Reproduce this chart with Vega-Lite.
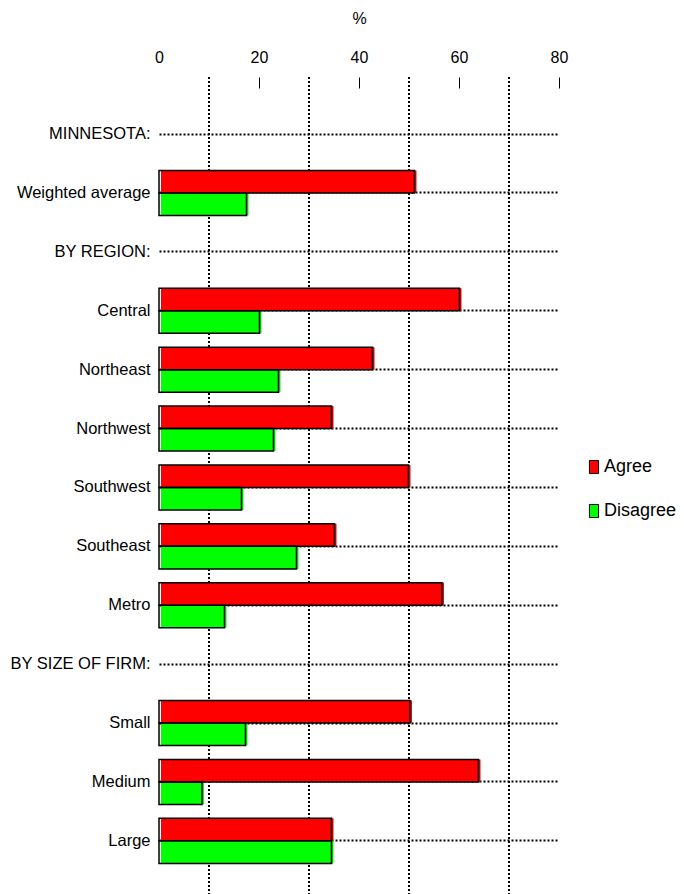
{
  "$schema": "https://vega.github.io/schema/vega-lite/v6.json",
  "width": 400,
  "height": 817,
  "autosize": "none",
  "padding": {"left": 159, "top": 77, "right": 125, "bottom": 0},
  "background": "white",
  "config": {
    "view": {"stroke": null},
    "font": "Liberation Sans",
    "axis": {"labelFont": "Liberation Sans", "titleFont": "Liberation Sans", "labelColor": "black", "titleColor": "black"},
    "legend": {"labelFont": "Liberation Sans", "labelColor": "black"}
  },
  "datasets": {
    "bars": [
      {"cat": "Weighted average", "series": "Agree", "value": 51.1},
      {"cat": "Weighted average", "series": "Disagree", "value": 17.5},
      {"cat": "Central", "series": "Agree", "value": 60.1},
      {"cat": "Central", "series": "Disagree", "value": 20.1},
      {"cat": "Northeast", "series": "Agree", "value": 42.7},
      {"cat": "Northeast", "series": "Disagree", "value": 23.9},
      {"cat": "Northwest", "series": "Agree", "value": 34.5},
      {"cat": "Northwest", "series": "Disagree", "value": 22.9},
      {"cat": "Southwest", "series": "Agree", "value": 49.9},
      {"cat": "Southwest", "series": "Disagree", "value": 16.5},
      {"cat": "Southeast", "series": "Agree", "value": 35.1},
      {"cat": "Southeast", "series": "Disagree", "value": 27.5},
      {"cat": "Metro", "series": "Agree", "value": 56.6},
      {"cat": "Metro", "series": "Disagree", "value": 13.1},
      {"cat": "Small", "series": "Agree", "value": 50.2},
      {"cat": "Small", "series": "Disagree", "value": 17.3},
      {"cat": "Medium", "series": "Agree", "value": 63.9},
      {"cat": "Medium", "series": "Disagree", "value": 8.6},
      {"cat": "Large", "series": "Agree", "value": 34.5},
      {"cat": "Large", "series": "Disagree", "value": 34.5}
    ],
    "grid": [{"value": 10}, {"value": 30}, {"value": 50}, {"value": 70}]
  },
  "layer": [
    {
      "data": {"name": "grid"},
      "mark": {"type": "rule", "color": "black", "strokeWidth": 2, "strokeDash": [2, 2]},
      "encoding": {
        "x": {
          "field": "value", "type": "quantitative",
          "scale": {"domain": [0, 80], "nice": false},
          "axis": {
            "orient": "top", "title": "%", "titleFontSize": 16, "titleFontWeight": "normal", "titlePadding": 23,
            "values": [0, 20, 40, 60, 80], "grid": false, "domain": false,
            "tickSize": -11, "tickColor": "black", "tickWidth": 1,
            "tickOpacity": {"condition": {"test": "datum.value == 0", "value": 0}, "value": 1},
            "labelPadding": 23, "labelFontSize": 16, "labelFlush": false
          }
        }
      }
    },
    {
      "data": {"name": "bars"},
      "mark": {"type": "bar", "xOffset": 2, "x2Offset": 2, "strokeWidth": 0},
      "encoding": {
        "y": {
          "field": "cat", "type": "nominal",
          "scale": {
            "domain": ["MINNESOTA:", "Weighted average", "BY REGION:", "Central", "Northeast", "Northwest", "Southwest", "Southeast", "Metro", "BY SIZE OF FIRM:", "Small", "Medium", "Large"],
            "paddingInner": 0.235, "paddingOuter": 0.553, "align": 0.53
          },
          "axis": {
            "title": null, "domain": false, "ticks": false, "labelPadding": 9, "labelFontSize": 16.5,
            "grid": true, "gridColor": "black", "gridDash": [2, 2], "gridWidth": 2, "gridOpacity": 1
          }
        },
        "yOffset": {"field": "series", "type": "nominal", "scale": {"domain": ["Agree", "Disagree"]}},
        "x": {
          "field": "value", "type": "quantitative",
          "axis": {
            "orient": "top", "title": "%", "titleFontSize": 16, "titleFontWeight": "normal", "titlePadding": 23,
            "values": [0, 20, 40, 60, 80], "grid": false, "domain": false,
            "tickSize": -11, "tickColor": "black", "tickWidth": 1,
            "tickOpacity": {"condition": {"test": "datum.value == 0", "value": 0}, "value": 1},
            "labelPadding": 23, "labelFontSize": 16, "labelFlush": false
          }
        },
        "color": {
          "field": "series", "type": "nominal",
          "scale": {"domain": ["Agree", "Disagree"], "range": ["#ff0000", "#00ff00"]},
          "legend": {
            "title": null, "orient": "none", "legendX": 426, "legendY": 381,
            "labelFontSize": 18, "rowPadding": 26, "labelOffset": 1,
            "symbolType": "M-0.7,-1L0.7,-1L0.7,1L-0.7,1Z", "symbolSize": 170,
            "symbolStrokeColor": "black", "symbolStrokeWidth": 1, "symbolOpacity": 1
          }
        }
      }
    },
    {
      "data": {"name": "bars"},
      "mark": {"type": "bar", "fill": "transparent", "stroke": "black", "strokeWidth": 1.5},
      "encoding": {
        "y": {"field": "cat", "type": "nominal"},
        "yOffset": {"field": "series", "type": "nominal"},
        "x": {"field": "value", "type": "quantitative"}
      }
    }
  ]
}
